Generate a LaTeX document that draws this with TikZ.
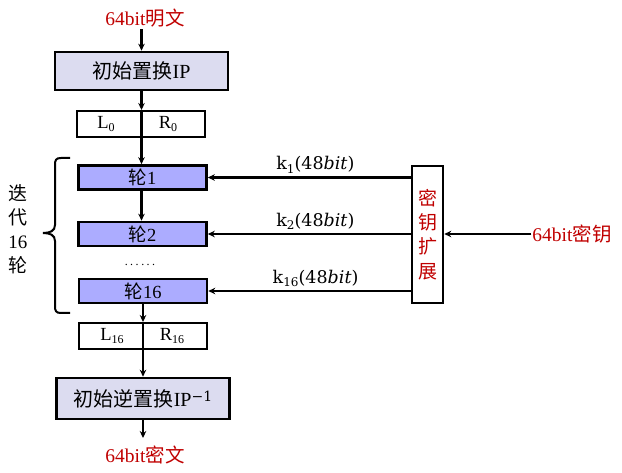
\documentclass[tikz,border=0pt]{standalone}
\usepackage{fontspec}
\setmainfont{Liberation Serif}
\newfontfamily\cjk{Noto Sans CJK SC}
\newfontfamily\kfont{DejaVu Serif}
\usetikzlibrary{arrows.meta}
\definecolor{redtxt}{RGB}{192,0,0}
\definecolor{ipfill}{RGB}{220,220,240}
\definecolor{rdfill}{RGB}{172,172,255}
\newcommand\lowsub[2]{\raisebox{-0.4ex}{\fontsize{#2}{#2}\selectfont #1}}
\begin{document}
\begin{tikzpicture}[x=1pt,y=-1pt,
  ipbox/.style={draw,line width=2.6pt,fill=ipfill,minimum width=173pt,minimum height=38pt,inner sep=0pt,font=\fontsize{20}{20}\selectfont},
  lrbox/.style={draw,line width=2pt,fill=white,minimum width=128pt,minimum height=26pt,inner sep=0pt},
  lrtxt/.style={inner sep=0pt,font=\fontsize{18.5}{18.5}\selectfont},
  rdbox/.style={draw,line width=2.6pt,fill=rdfill,minimum width=128pt,minimum height=24pt,inner sep=0pt,font=\fontsize{18.5}{18.5}\selectfont},
  keybox/.style={draw,line width=2.6pt,fill=white,minimum width=31pt,minimum height=137pt,inner sep=0pt,font=\cjk\fontsize{19}{24.3}\selectfont,text=redtxt,align=center},
  redlbl/.style={text=redtxt,inner sep=1pt,font=\fontsize{19.5}{19.5}\selectfont},
  klbl/.style={inner sep=1pt,font=\kfont\fontsize{17.5}{17.5}\selectfont},
  arr/.style={line width=2.2pt,-{Stealth[length=7pt,width=6.5pt]}},
  ln/.style={line width=2.2pt}]
\useasboundingbox (0,0) rectangle (622,473);

\node[redlbl] (ptxt) at (145,18) {64bit{\cjk 明文}};
\node[ipbox] (ip) at (141.5,71) {{\cjk 初始置换}IP};
\node[lrbox] (lr0) at (140.5,124) {};
\node[lrtxt] (l0) at (106,124) {L\lowsub{0}{12}};
\node[lrtxt] (rr0) at (168,124) {R\lowsub{0}{12}};

\node[rdbox] (r1) at (142.5,177.5) {{\cjk 轮}1};
\node[rdbox] (r2) at (142.5,234) {{\cjk 轮}2};
\node[inner sep=0pt,font=\fontsize{12}{12}\selectfont] (dots) at (140,265) {.\hspace{2.5pt}.\hspace{2.5pt}.\hspace{2.5pt}.\hspace{2.5pt}.\hspace{2.5pt}.};
\node[rdbox] (r16) at (143,291) {{\cjk 轮}16};

\node[lrbox] (lr16) at (142.5,336) {};
\node[lrtxt] (l16) at (112,336) {L\lowsub{16}{12}};
\node[lrtxt] (rr16) at (172,336) {R\lowsub{16}{12}};

\node[ipbox,minimum height=41pt] (ipinv) at (143,398.5) {{\cjk 初始逆置换}IP\raisebox{0.55ex}{\kfont\fontsize{14}{14}\selectfont −1}};
\coordinate (cend) at (143,438);
\node[redlbl] (ctxt) at (145,455) {64bit{\cjk 密文}};

\node[keybox] (key) at (427.5,234.5) {密\\钥\\扩\\展};
\node[redlbl] (ktxt) at (572,234) {64bit{\cjk 密钥}};

% main flow
\draw[arr] (ptxt.south -| ip.north) ++(0,1) -- (ip.north);
\draw[arr] (ip.south) -- (ip.south |- lr0.north);
\draw[ln] (ip.south |- lr0.north) -- (ip.south |- lr0.south);
\draw[arr] (ip.south |- lr0.south) -- (ip.south |- r1.north);
\draw[arr] (ip.south |- r1.south) -- (ip.south |- r2.north);
\draw[arr] (r16.south) -- (r16.south |- lr16.north);
\draw[ln] (r16.south |- lr16.north) -- (r16.south |- lr16.south);
\draw[arr] (r16.south |- lr16.south) -- (ipinv.north);
\draw[arr] (ipinv.south) -- (cend);

% keys
\draw[arr] (key.west |- r1) -- node[klbl,above=2pt,pos=0.47] {k\lowsub{1}{12}(48\textit{bit})} (r1.east);
\draw[arr] (key.west |- r2) -- node[klbl,above=2pt,pos=0.47] {k\lowsub{2}{12}(48\textit{bit})} (r2.east);
\draw[arr] (key.west |- r16) -- node[klbl,above=2pt,pos=0.47] {k\lowsub{16}{12}(48\textit{bit})} (r16.east);
\draw[arr] (ktxt.west) -- (key.east |- ktxt);

% brace
\draw[line width=2pt] (70,158) -- (61,158) .. controls (56,158) and (55,160) .. (55,165) -- (55,225)
  .. controls (55,231) and (50,233) .. (43,233) .. controls (50,233) and (55,235) .. (55,241)
  -- (55,306) .. controls (55,311) and (56,313) .. (61,313) -- (70,313);
\node[align=center,inner sep=0pt,font=\cjk\fontsize{19}{24}\selectfont] (iter) at (18,229) {迭\\代\\{\rmfamily 16}\\轮};
\end{tikzpicture}
\end{document}
